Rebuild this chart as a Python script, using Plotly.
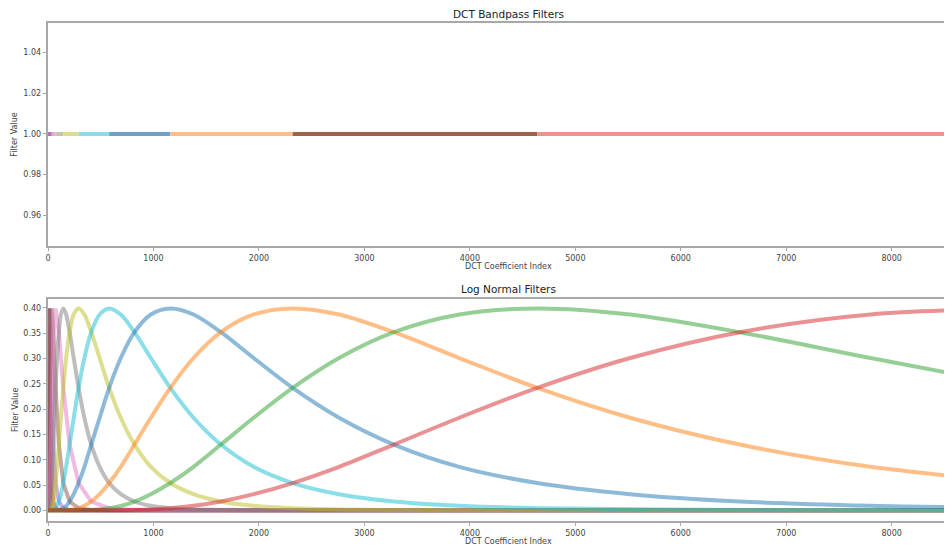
import plotly.graph_objects as go

# ---------------- data ----------------
# Top panel: DCT bandpass bands (index ranges, value 1.0)
band_start = [0, 36, 72, 145, 290, 580, 1160, 2320, 4640]
band_end = [36, 72, 145, 290, 580, 1160, 2320, 4640, 9280]
band_value = [1.0, 1.0, 1.0, 1.0, 1.0, 1.0, 1.0, 1.0, 1.0]
band_color = ["rgb(178,118,178)", "rgb(236,170,214)", "rgb(196,196,176)", "rgb(220,220,140)",
              "rgb(140,220,232)", "rgb(112,160,200)", "rgb(255,190,135)", "rgb(160,96,76)",
              "rgb(235,147,147)"]

# Bottom panel: log-normal filters
x_c0 = [1, 1.6, 2.3, 3.2, 4.5, 6.4, 9, 13, 18, 9280]
y_c0 = [0.399, 0.352, 0.242, 0.130, 0.054, 0.0175, 0.0044, 0.0009, 0.0001, 0]
x_c1 = [1, 1.6, 2.3, 3.2, 4.5, 6.4, 9, 13, 18, 26, 36, 9280]
y_c1 = [0.17, 0.352, 0.399, 0.352, 0.242, 0.130, 0.054, 0.0175, 0.0044, 0.0009, 0.0001, 0]
x_c2 = [0, 1.1, 1.6, 2.3, 3.2, 4.5, 6.4, 9, 13, 18, 26, 36, 51, 72, 9280]
y_c2 = [0, 0.054, 0.130, 0.242, 0.352, 0.399, 0.352, 0.242, 0.130, 0.054, 0.0175, 0.0044, 0.0009, 0.0001, 0]
x_c3 = [0, 1.1, 1.6, 2.3, 3.2, 4.5, 6.4, 9, 13, 18, 26, 36, 51, 72, 103, 145, 9280]
y_c3 = [0, 0.0044, 0.0175, 0.054, 0.130, 0.242, 0.352, 0.399, 0.352, 0.242, 0.130, 0.054, 0.0175,
        0.0044, 0.0009, 0.0001, 0]
x_c4 = [0, 1.1, 2.3, 3.2, 4.5, 6.4, 9, 13, 18, 26, 36, 51, 72, 103, 145, 205, 290, 9280]
y_c4 = [0, 0.0001, 0.0044, 0.0175, 0.054, 0.130, 0.242, 0.352, 0.399, 0.352, 0.242, 0.130, 0.054,
        0.0175, 0.0044, 0.0009, 0.0001, 0]
x_c5 = [0, 2.3, 3.2, 4.5, 6.4, 9, 13, 18, 26, 36, 51, 72, 103, 145, 205, 290, 410, 580, 9280]
y_c5 = [0, 0.0001, 0.0009, 0.0044, 0.0175, 0.054, 0.130, 0.242, 0.352, 0.399, 0.352, 0.242, 0.130,
        0.054, 0.0175, 0.0044, 0.0009, 0.0001, 0]
x_c6 = [0, 3, 4.5, 6.4, 9, 13, 18, 26, 36, 51, 72, 103, 145, 205, 290, 410, 580, 820, 1160, 9280]
y_c6 = [0, 0, 0.0001, 0.0009, 0.0044, 0.0175, 0.054, 0.130, 0.242, 0.352, 0.399, 0.352, 0.242, 0.130,
        0.054, 0.0175, 0.0044, 0.0009, 0.0001, 0]
x_c7 = [0, 6, 9, 13, 18, 22, 26, 30, 36, 43, 51, 61, 72, 86, 103, 122, 145, 172, 205, 244, 290, 345,
        410, 490, 580, 690, 820, 975, 1160, 1640, 2320, 9280]
y_c7 = [0, 0, 0.0001, 0.0009, 0.0044, 0.009, 0.0175, 0.032, 0.054, 0.086, 0.130, 0.183, 0.242, 0.301,
        0.352, 0.387, 0.399, 0.387, 0.352, 0.301, 0.242, 0.183, 0.130, 0.086, 0.054, 0.032, 0.0175,
        0.009, 0.0044, 0.0009, 0.0001, 0]
x_c8 = [0, 12, 18, 26, 36, 43, 51, 61, 72, 86, 103, 122, 145, 172, 205, 244, 290, 345, 410, 490, 580,
        690, 820, 975, 1160, 1380, 1640, 1950, 2320, 3280, 4640, 9280]
y_c8 = [0, 0, 0.0001, 0.0009, 0.0044, 0.009, 0.0175, 0.032, 0.054, 0.086, 0.130, 0.183, 0.242, 0.301,
        0.352, 0.387, 0.399, 0.387, 0.352, 0.301, 0.242, 0.183, 0.130, 0.086, 0.054, 0.032, 0.0175,
        0.009, 0.0044, 0.0009, 0.0001, 0]
x_c9 = [0, 25, 36, 51, 72, 86, 103, 122, 145, 172, 205, 244, 290, 345, 410, 490, 580, 690, 820, 975,
        1160, 1380, 1640, 1950, 2320, 2760, 3280, 3900, 4640, 6560, 9280]
y_c9 = [0, 0, 0.0001, 0.0009, 0.0044, 0.009, 0.0175, 0.032, 0.054, 0.086, 0.130, 0.183, 0.242, 0.301,
        0.352, 0.387, 0.399, 0.387, 0.352, 0.301, 0.242, 0.183, 0.130, 0.086, 0.054, 0.032, 0.0175,
        0.009, 0.0044, 0.0009, 0.0001]
x_c10 = [0, 50, 72, 103, 145, 172, 205, 244, 290, 345, 410, 490, 580, 690, 820, 975, 1160, 1380, 1640,
         1950, 2320, 2760, 3280, 3900, 4640, 5520, 6560, 7800, 9280]
y_c10 = [0, 0, 0.0001, 0.0009, 0.0044, 0.009, 0.0175, 0.032, 0.054, 0.086, 0.130, 0.183, 0.242, 0.301,
         0.352, 0.387, 0.399, 0.387, 0.352, 0.301, 0.242, 0.183, 0.130, 0.086, 0.054, 0.032, 0.0175,
         0.009, 0.0044]
x_c11 = [0, 100, 145, 205, 290, 345, 410, 490, 580, 690, 820, 975, 1160, 1380, 1640, 1950, 2320, 2760,
         3280, 3900, 4640, 5520, 6560, 7800, 9280]
y_c11 = [0, 0, 0.0001, 0.0009, 0.0044, 0.009, 0.0175, 0.032, 0.054, 0.086, 0.130, 0.183, 0.242, 0.301,
         0.352, 0.387, 0.399, 0.387, 0.352, 0.301, 0.242, 0.183, 0.130, 0.086, 0.054]
x_c12 = [0, 200, 290, 410, 580, 690, 820, 975, 1160, 1380, 1640, 1950, 2320, 2760, 3280, 3900, 4640,
         5520, 6560, 7800, 9280]
y_c12 = [0, 0, 0.0001, 0.0009, 0.0044, 0.009, 0.0175, 0.032, 0.054, 0.086, 0.130, 0.183, 0.242, 0.301,
         0.352, 0.387, 0.399, 0.387, 0.352, 0.301, 0.242]
x_c13 = [0, 400, 580, 820, 1160, 1380, 1640, 1950, 2320, 2760, 3280, 3900, 4640, 5520, 6560, 7800, 9280]
y_c13 = [0, 0, 0.0001, 0.0009, 0.0044, 0.009, 0.0175, 0.032, 0.054, 0.086, 0.130, 0.183, 0.242, 0.301,
         0.352, 0.387, 0.399]

curve_colors = ["#1f77b4", "#ff7f0e", "#2ca02c", "#d62728", "#9467bd", "#8c564b", "#e377c2",
                "#7f7f7f", "#bcbd22", "#17becf", "#1f77b4", "#ff7f0e", "#2ca02c", "#d62728"]

x_ticks = [0, 1000, 2000, 3000, 4000, 5000, 6000, 7000, 8000]
top_y_ticks = [0.96, 0.98, 1.00, 1.02, 1.04]
bottom_y_ticks = [0.00, 0.05, 0.10, 0.15, 0.20, 0.25, 0.30, 0.35, 0.40]

# ---------------- figure ----------------
OFF = 8  # page body margin of the browser
W, H = 944, 540
ML, MR, MT, MB = 40, 0, 15, 27
PW, PH = W - ML - MR, H - MT - MB


def px_x(p):  # screen pixel -> paper x
    return (p - OFF - ML) / PW


def px_y(p):  # screen pixel -> paper y
    return 1 - (p - OFF - MT) / PH


fig = go.Figure()

for s, e, v, c in zip(band_start, band_end, band_value, band_color):
    fig.add_trace(go.Scatter(x=[s, e], y=[v, v], mode="lines", xaxis="x", yaxis="y",
                             line=dict(color=c, width=4), hoverinfo="skip", showlegend=False))

curves = [(x_c0, y_c0), (x_c1, y_c1), (x_c2, y_c2), (x_c3, y_c3), (x_c4, y_c4), (x_c5, y_c5),
          (x_c6, y_c6), (x_c7, y_c7), (x_c8, y_c8), (x_c9, y_c9), (x_c10, y_c10), (x_c11, y_c11),
          (x_c12, y_c12), (x_c13, y_c13)]
for i, (xs, ys) in enumerate(curves):
    fig.add_trace(go.Scatter(x=xs, y=ys, mode="lines", xaxis="x2", yaxis="y2", opacity=0.5,
                             line=dict(color=curve_colors[i], width=4,
                                       shape="spline" if i >= 7 else "linear", smoothing=0.9),
                             hoverinfo="skip", showlegend=False))

font = "DejaVu Sans, Liberation Sans, sans-serif"
axis_common = dict(showgrid=False, zeroline=False, showline=True, linecolor="#a8a8a8", linewidth=1.5,
                   ticks="outside", ticklen=3.5, tickwidth=1, tickcolor="#a8a8a8", automargin=False,
                   tickfont=dict(family=font, size=8, color="#444"))

fig.update_layout(
    width=W, height=H, margin=dict(l=ML, r=MR, t=MT, b=MB, autoexpand=False),
    paper_bgcolor="white", plot_bgcolor="white",
    xaxis=dict(domain=[0, 1], anchor="y", range=[0, 8572], tickvals=x_ticks, mirror=True,
               **axis_common),
    yaxis=dict(domain=[px_y(245.7), 1.0], anchor="x", range=[0.945, 1.0546], tickvals=top_y_ticks,
               tickformat=".2f", **axis_common),
    xaxis2=dict(domain=[0, 1], anchor="y2", range=[0, 8572], tickvals=x_ticks, mirror=True,
                **axis_common),
    yaxis2=dict(domain=[0, px_y(299.3)], anchor="x2", range=[-0.021, 0.417], tickvals=bottom_y_ticks,
                tickformat=".2f", **axis_common),
)

ann = []


def add_text(text, px, py, size, color="#222", angle=0):
    ann.append(dict(text=text, x=px_x(px), y=px_y(py), xref="paper", yref="paper", showarrow=False,
                    xanchor="center", yanchor="middle", textangle=angle,
                    font=dict(family=font, size=size, color=color)))


add_text("DCT Bandpass Filters", 508, 14, 10.5)
add_text("Log Normal Filters", 508, 289, 10.5)
add_text("DCT Coefficient Index", 508, 266, 8, "#444")
add_text("DCT Coefficient Index", 508, 541, 8, "#444")
add_text("Filter Value", 15, 134.7, 8, "#444", -90)
add_text("Filter Value", 15, 410, 8, "#444", -90)
fig.update_layout(annotations=ann)

fig.write_html("out.html")
